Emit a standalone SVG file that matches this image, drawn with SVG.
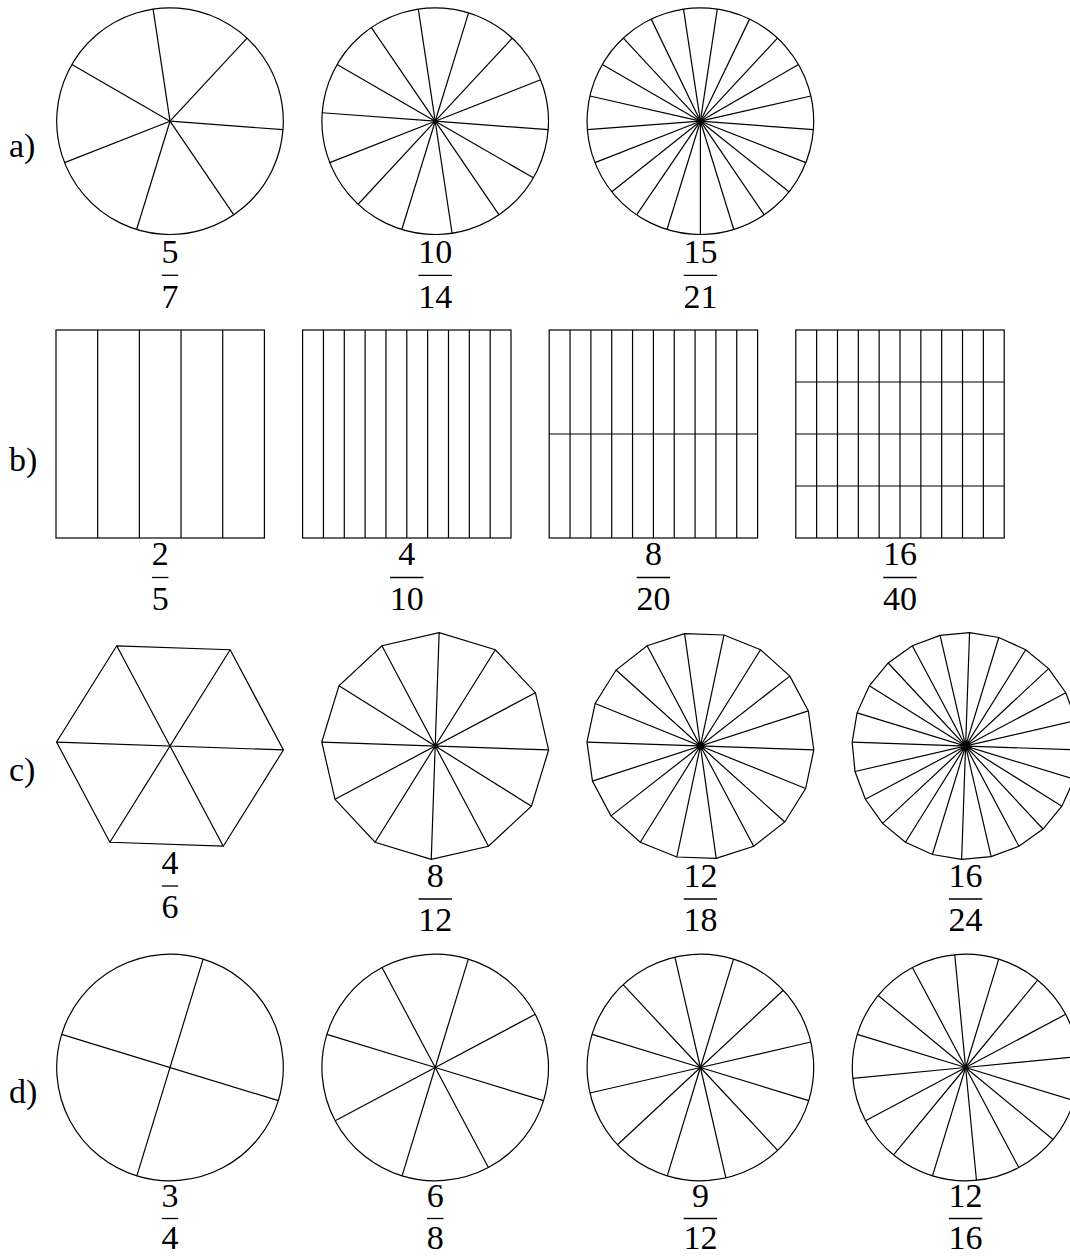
<svg xmlns="http://www.w3.org/2000/svg" width="1070" height="1256" viewBox="0 0 1070 1256">
<style>
.s{fill:none;stroke:#000;stroke-width:1.2}
.t{font-family:"Liberation Serif","DejaVu Serif",serif;font-size:34px;fill:#000}
.n{text-anchor:middle}
.bar{stroke:#000;stroke-width:1.3}
</style>
<defs>
<line id="sp" x1="0" y1="0" x2="113.3" y2="0" class="s"/>
</defs>
<rect width="1070" height="1256" fill="#fff"/>

<!-- Row labels -->
<g id="labels">
<text class="t" x="9" y="157">a)</text>
<text class="t" x="9" y="470.5">b)</text>
<text class="t" x="9" y="781">c)</text>
<text class="t" x="9" y="1102.5">d)</text>
</g>

<!-- Row a -->
<g id="a1">
<g transform="translate(170,121.2) rotate(4.2857)">
<circle r="113.3" class="s"/>
<use href="#sp"/>
<use href="#sp" transform="rotate(51.4286)"/>
<use href="#sp" transform="rotate(102.8571)"/>
<use href="#sp" transform="rotate(154.2857)"/>
<use href="#sp" transform="rotate(205.7143)"/>
<use href="#sp" transform="rotate(257.1429)"/>
<use href="#sp" transform="rotate(308.5714)"/>
</g>
<text class="t n" x="170" y="263">5</text>
<line class="bar" x1="161.8" y1="275.3" x2="178.2" y2="275.3"/>
<text class="t n" x="170" y="307.5">7</text>
</g>

<g id="a2">
<g transform="translate(435.2,121.2) rotate(4.2857)">
<circle r="113.3" class="s"/>
<use href="#sp"/>
<use href="#sp" transform="rotate(25.7143)"/>
<use href="#sp" transform="rotate(51.4286)"/>
<use href="#sp" transform="rotate(77.1429)"/>
<use href="#sp" transform="rotate(102.8571)"/>
<use href="#sp" transform="rotate(128.5714)"/>
<use href="#sp" transform="rotate(154.2857)"/>
<use href="#sp" transform="rotate(180)"/>
<use href="#sp" transform="rotate(205.7143)"/>
<use href="#sp" transform="rotate(231.4286)"/>
<use href="#sp" transform="rotate(257.1429)"/>
<use href="#sp" transform="rotate(282.8571)"/>
<use href="#sp" transform="rotate(308.5714)"/>
<use href="#sp" transform="rotate(334.2857)"/>
</g>
<text class="t n" x="435.2" y="263">10</text>
<line class="bar" x1="418.5" y1="275.3" x2="451.9" y2="275.3"/>
<text class="t n" x="435.2" y="307.5">14</text>
</g>

<g id="a3">
<g transform="translate(700.4,121.2) rotate(4.2857)">
<circle r="113.3" class="s"/>
<use href="#sp"/>
<use href="#sp" transform="rotate(17.1429)"/>
<use href="#sp" transform="rotate(34.2857)"/>
<use href="#sp" transform="rotate(51.4286)"/>
<use href="#sp" transform="rotate(68.5714)"/>
<use href="#sp" transform="rotate(85.7143)"/>
<use href="#sp" transform="rotate(102.8571)"/>
<use href="#sp" transform="rotate(120)"/>
<use href="#sp" transform="rotate(137.1429)"/>
<use href="#sp" transform="rotate(154.2857)"/>
<use href="#sp" transform="rotate(171.4286)"/>
<use href="#sp" transform="rotate(188.5714)"/>
<use href="#sp" transform="rotate(205.7143)"/>
<use href="#sp" transform="rotate(222.8571)"/>
<use href="#sp" transform="rotate(240)"/>
<use href="#sp" transform="rotate(257.1429)"/>
<use href="#sp" transform="rotate(274.2857)"/>
<use href="#sp" transform="rotate(291.4286)"/>
<use href="#sp" transform="rotate(308.5714)"/>
<use href="#sp" transform="rotate(325.7143)"/>
<use href="#sp" transform="rotate(342.8571)"/>
</g>
<text class="t n" x="700.4" y="263">15</text>
<line class="bar" x1="683.7" y1="275.3" x2="717.1" y2="275.3"/>
<text class="t n" x="700.4" y="307.5">21</text>
</g>

<!-- Row b -->
<g id="b1">
<rect class="s" x="56" y="330" width="208.4" height="208"/>
<path class="s" d="M97.68 330V538M139.36 330V538M181.04 330V538M222.72 330V538"/>
<text class="t n" x="160.2" y="565">2</text>
<line class="bar" x1="152" y1="577.5" x2="168.4" y2="577.5"/>
<text class="t n" x="160.2" y="609.5">5</text>
</g>

<g id="b2">
<rect class="s" x="302.6" y="330" width="208.4" height="208"/>
<path class="s" d="M323.44 330V538M344.28 330V538M365.12 330V538M385.96 330V538M406.8 330V538M427.64 330V538M448.48 330V538M469.32 330V538M490.16 330V538"/>
<text class="t n" x="406.8" y="565">4</text>
<line class="bar" x1="390.1" y1="577.5" x2="423.5" y2="577.5"/>
<text class="t n" x="406.8" y="609.5">10</text>
</g>

<g id="b3">
<rect class="s" x="549.2" y="330" width="208.4" height="208"/>
<path class="s" d="M570.04 330V538M590.88 330V538M611.72 330V538M632.56 330V538M653.4 330V538M674.24 330V538M695.08 330V538M715.92 330V538M736.76 330V538M549.2 434H757.6"/>
<text class="t n" x="653.4" y="565">8</text>
<line class="bar" x1="636.7" y1="577.5" x2="670.1" y2="577.5"/>
<text class="t n" x="653.4" y="609.5">20</text>
</g>

<g id="b4">
<rect class="s" x="795.8" y="330" width="208.4" height="208"/>
<path class="s" d="M816.64 330V538M837.48 330V538M858.32 330V538M879.16 330V538M900 330V538M920.84 330V538M941.68 330V538M962.52 330V538M983.36 330V538M795.8 382H1004.2M795.8 434H1004.2M795.8 486H1004.2"/>
<text class="t n" x="900" y="565">16</text>
<line class="bar" x1="883.3" y1="577.5" x2="916.7" y2="577.5"/>
<text class="t n" x="900" y="609.5">40</text>
</g>

<!-- Row c -->
<g id="c1">
<g transform="translate(170,746) rotate(2)">
<path class="s" d="M113.5 0L56.75 98.29L-56.75 98.29L-113.5 0L-56.75 -98.29L56.75 -98.29Z"/>
<path class="s" d="M113.5 0L-113.5 0M56.75 98.29L-56.75 -98.29M-56.75 98.29L56.75 -98.29"/>
</g>
<text class="t n" x="170" y="874">4</text>
<line class="bar" x1="161.8" y1="886" x2="178.2" y2="886"/>
<text class="t n" x="170" y="918">6</text>
</g>

<g id="c2">
<g transform="translate(435.2,746) rotate(2)">
<path class="s" d="M113.5 0L98.29 56.75L56.75 98.29L0 113.5L-56.75 98.29L-98.29 56.75L-113.5 0L-98.29 -56.75L-56.75 -98.29L0 -113.5L56.75 -98.29L98.29 -56.75Z"/>
<path class="s" d="M113.5 0L-113.5 0M98.29 56.75L-98.29 -56.75M56.75 98.29L-56.75 -98.29M0 113.5L0 -113.5M-56.75 98.29L56.75 -98.29M-98.29 56.75L98.29 -56.75"/>
</g>
<text class="t n" x="435.2" y="887">8</text>
<line class="bar" x1="418.5" y1="899" x2="451.9" y2="899"/>
<text class="t n" x="435.2" y="931">12</text>
</g>

<g id="c3">
<g transform="translate(700.4,746) rotate(2)">
<path class="s" d="M113.5 0L106.66 38.82L86.95 72.96L56.75 98.29L19.71 111.78L-19.71 111.78L-56.75 98.29L-86.95 72.96L-106.66 38.82L-113.5 0L-106.66 -38.82L-86.95 -72.96L-56.75 -98.29L-19.71 -111.78L19.71 -111.78L56.75 -98.29L86.95 -72.96L106.66 -38.82Z"/>
<path class="s" d="M113.5 0L-113.5 0M106.66 38.82L-106.66 -38.82M86.95 72.96L-86.95 -72.96M56.75 98.29L-56.75 -98.29M19.71 111.78L-19.71 -111.78M-19.71 111.78L19.71 -111.78M-56.75 98.29L56.75 -98.29M-86.95 72.96L86.95 -72.96M-106.66 38.82L106.66 -38.82"/>
</g>
<text class="t n" x="700.4" y="887">12</text>
<line class="bar" x1="683.7" y1="899" x2="717.1" y2="899"/>
<text class="t n" x="700.4" y="931">18</text>
</g>

<g id="c4">
<g transform="translate(965.6,746) rotate(2)">
<path class="s" d="M113.5 0L109.63 29.38L98.29 56.75L80.26 80.26L56.75 98.29L29.38 109.63L0 113.5L-29.38 109.63L-56.75 98.29L-80.26 80.26L-98.29 56.75L-109.63 29.38L-113.5 0L-109.63 -29.38L-98.29 -56.75L-80.26 -80.26L-56.75 -98.29L-29.38 -109.63L0 -113.5L29.38 -109.63L56.75 -98.29L80.26 -80.26L98.29 -56.75L109.63 -29.38Z"/>
<path class="s" d="M113.5 0L-113.5 0M109.63 29.38L-109.63 -29.38M98.29 56.75L-98.29 -56.75M80.26 80.26L-80.26 -80.26M56.75 98.29L-56.75 -98.29M29.38 109.63L-29.38 -109.63M0 113.5L0 -113.5M-29.38 109.63L29.38 -109.63M-56.75 98.29L56.75 -98.29M-80.26 80.26L80.26 -80.26M-98.29 56.75L98.29 -56.75M-109.63 29.38L109.63 -29.38"/>
</g>
<text class="t n" x="965.6" y="887">16</text>
<line class="bar" x1="948.9" y1="899" x2="982.3" y2="899"/>
<text class="t n" x="965.6" y="931">24</text>
</g>

<!-- Row d -->
<g id="d1">
<g transform="translate(170,1067.5) rotate(17)">
<circle r="113.3" class="s"/>
<path class="s" d="M113.3 0H-113.3M0 113.3V-113.3"/>
</g>
<text class="t n" x="170" y="1206.5">3</text>
<line class="bar" x1="161.8" y1="1218.5" x2="178.2" y2="1218.5"/>
<text class="t n" x="170" y="1248.5">4</text>
</g>

<g id="d2">
<g transform="translate(435.2,1067.5) rotate(17)">
<circle r="113.3" class="s"/>
<use href="#sp"/>
<use href="#sp" transform="rotate(45)"/>
<use href="#sp" transform="rotate(90)"/>
<use href="#sp" transform="rotate(135)"/>
<use href="#sp" transform="rotate(180)"/>
<use href="#sp" transform="rotate(225)"/>
<use href="#sp" transform="rotate(270)"/>
<use href="#sp" transform="rotate(315)"/>
</g>
<text class="t n" x="435.2" y="1206.5">6</text>
<line class="bar" x1="427" y1="1218.5" x2="443.4" y2="1218.5"/>
<text class="t n" x="435.2" y="1248.5">8</text>
</g>

<g id="d3">
<g transform="translate(700.4,1067.5) rotate(17)">
<circle r="113.3" class="s"/>
<use href="#sp"/>
<use href="#sp" transform="rotate(30)"/>
<use href="#sp" transform="rotate(60)"/>
<use href="#sp" transform="rotate(90)"/>
<use href="#sp" transform="rotate(120)"/>
<use href="#sp" transform="rotate(150)"/>
<use href="#sp" transform="rotate(180)"/>
<use href="#sp" transform="rotate(210)"/>
<use href="#sp" transform="rotate(240)"/>
<use href="#sp" transform="rotate(270)"/>
<use href="#sp" transform="rotate(300)"/>
<use href="#sp" transform="rotate(330)"/>
</g>
<text class="t n" x="700.4" y="1206.5">9</text>
<line class="bar" x1="683.7" y1="1218.5" x2="717.1" y2="1218.5"/>
<text class="t n" x="700.4" y="1248.5">12</text>
</g>

<g id="d4">
<g transform="translate(965.6,1067.5) rotate(17)">
<circle r="113.3" class="s"/>
<use href="#sp"/>
<use href="#sp" transform="rotate(22.5)"/>
<use href="#sp" transform="rotate(45)"/>
<use href="#sp" transform="rotate(67.5)"/>
<use href="#sp" transform="rotate(90)"/>
<use href="#sp" transform="rotate(112.5)"/>
<use href="#sp" transform="rotate(135)"/>
<use href="#sp" transform="rotate(157.5)"/>
<use href="#sp" transform="rotate(180)"/>
<use href="#sp" transform="rotate(202.5)"/>
<use href="#sp" transform="rotate(225)"/>
<use href="#sp" transform="rotate(247.5)"/>
<use href="#sp" transform="rotate(270)"/>
<use href="#sp" transform="rotate(292.5)"/>
<use href="#sp" transform="rotate(315)"/>
<use href="#sp" transform="rotate(337.5)"/>
</g>
<text class="t n" x="965.6" y="1206.5">12</text>
<line class="bar" x1="948.9" y1="1218.5" x2="982.3" y2="1218.5"/>
<text class="t n" x="965.6" y="1248.5">16</text>
</g>
</svg>
